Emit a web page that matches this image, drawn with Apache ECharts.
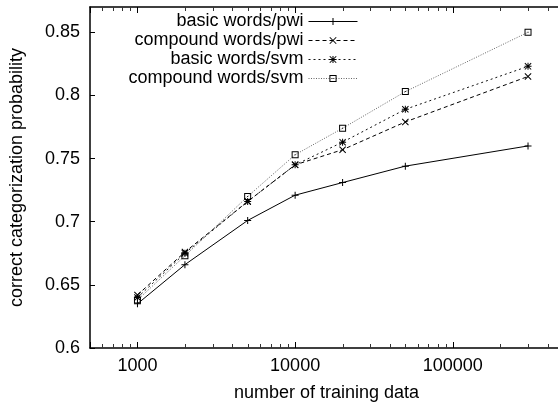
<!DOCTYPE html>
<html>
<head>
<meta charset="utf-8">
<script src="https://cdn.jsdelivr.net/npm/echarts@6/dist/echarts.min.js"></script>
<style>
  html, body { margin: 0; padding: 0; background: #fff; }
  #chart { width: 558px; height: 402px; }
</style>
</head>
<body>
<div id="chart"></div>
<script>
const trainingSizes = [1000, 2000, 5000, 10000, 20000, 50000, 300000]
const basicPwi = [0.635, 0.666, 0.701, 0.721, 0.731, 0.744, 0.760]
const compoundPwi = [0.642, 0.676, 0.716, 0.745, 0.757, 0.779, 0.815]
const basicSvm = [0.640, 0.675, 0.716, 0.745, 0.763, 0.789, 0.823]
const compoundSvm = [0.638, 0.673, 0.720, 0.753, 0.774, 0.803, 0.850]

const xMinorTicks = [600, 700, 800, 900, 2000, 3000, 4000, 5000, 6000, 7000, 8000, 9000,
  20000, 30000, 40000, 50000, 60000, 70000, 80000, 90000, 200000, 300000, 400000]
const yTicks = [0.6, 0.65, 0.7, 0.75, 0.8, 0.85]

const FONT = '"Liberation Sans", Arial, Helvetica, sans-serif'
const black = '#000'
const Y_MIN = 0.6
const Y_MAX = 0.87

// symbol shapes in the gnuplot style
const plusSym = 'path://M3,0H4V7H3Z M0,3H7V4H0Z'
const crossSym = 'path://M0,0.7L0.7,0L7,6.3L6.3,7Z M6.3,0L7,0.7L0.7,7L0,6.3Z'
const starSym = 'path://M3,0H4V7H3Z M0,3H7V4H0Z M0,0.7L0.7,0L7,6.3L6.3,7Z M6.3,0L7,0.7L0.7,7L0,6.3Z'
const boxSym = 'path://M0,0H7V7H0Z M1,1V6H6V1Z M3,3H4V4H3Z'

const pairs = ys => trainingSizes.map((x, i) => [x, ys[i]])

const mkSeries = (name, ys, symbol, lineType, color) => ({
  name,
  type: 'line',
  data: pairs(ys),
  symbol,
  symbolSize: 7,
  showSymbol: true,
  lineStyle: { color, width: 1, type: lineType },
  itemStyle: { color: black, borderWidth: 0 },
  emphasis: { disabled: true },
  animation: false,
})

// minor ticks on the log axis, drawn at bottom and top of the frame
const minorTickSeries = {
  type: 'custom',
  silent: true,
  clip: false,
  animation: false,
  data: xMinorTicks.map(v => [v, Y_MIN]),
  renderItem: (params, api) => {
    const b = api.coord([api.value(0), Y_MIN])
    const t = api.coord([api.value(0), Y_MAX])
    const x = Math.round(b[0]) + 0.5
    return {
      type: 'group',
      children: [
        { type: 'line', shape: { x1: x, y1: b[1], x2: x, y2: b[1] - 4 }, style: { stroke: '#333', lineWidth: 1 } },
        { type: 'line', shape: { x1: x, y1: t[1], x2: x, y2: t[1] + 4 }, style: { stroke: '#333', lineWidth: 1 } },
      ],
    }
  },
}

const isDecade = v => {
  const l = Math.log10(v)
  return Math.abs(l - Math.round(l)) < 1e-6
}

const chart = echarts.init(document.getElementById('chart'), null, { renderer: 'canvas' })

const xBase = {
  type: 'log',
  logBase: 10,
  min: 500,
  max: 500000,
  gridIndex: 0,
  splitLine: { show: false },
  minorTick: { show: false },
}

chart.setOption({
  backgroundColor: '#fff',
  animation: false,
  textStyle: { fontFamily: FONT },
  grid: { left: 90, top: 7, width: 473, height: 341, containLabel: false, outerBoundsMode: 'none' },
  legend: {
    orient: 'vertical',
    align: 'right',
    right: 200,
    top: 12,
    padding: 0,
    itemGap: 0,
    itemWidth: 49,
    itemHeight: 9,
    selectedMode: false,
    lineStyle: { width: 1 },
    textStyle: { fontFamily: FONT, fontSize: 18, color: black, lineHeight: 19 },
    data: ['basic words/pwi', 'compound words/pwi', 'basic words/svm', 'compound words/svm'],
  },
  xAxis: [
    {
      ...xBase,
      position: 'bottom',
      name: 'number of training data',
      nameLocation: 'middle',
      nameGap: 36,
      nameTextStyle: { fontFamily: FONT, fontSize: 18, color: black },
      axisLine: { show: true, lineStyle: { color: black, width: 1.5 } },
      axisTick: { show: true, inside: true, length: 6, lineStyle: { color: black } },
      axisLabel: { show: true, margin: 9, fontFamily: FONT, fontSize: 18, color: black,
        formatter: v => (isDecade(v) ? String(Math.round(v)) : '') },
    },
    {
      ...xBase,
      position: 'top',
      axisLine: { show: true, lineStyle: { color: black, width: 1.5 } },
      axisTick: { show: true, inside: true, length: 6, lineStyle: { color: black } },
      axisLabel: { show: false },
    },
  ],
  yAxis: [
    {
      type: 'value',
      min: Y_MIN,
      max: Y_MAX,
      position: 'left',
      name: 'correct categorization probability',
      nameLocation: 'middle',
      nameGap: 64,
      nameRotate: 90,
      nameTextStyle: { fontFamily: FONT, fontSize: 18, color: black },
      splitLine: { show: false },
      axisLine: { show: true, lineStyle: { color: black, width: 1.5 } },
      axisTick: { show: true, inside: true, length: 5, lineStyle: { color: black }, customValues: yTicks },
      axisLabel: { show: true, margin: 10, fontFamily: FONT, fontSize: 18, color: black, customValues: yTicks,
        formatter: v => String(+v.toFixed(2)) },
    },
    {
      type: 'value',
      min: Y_MIN,
      max: Y_MAX,
      position: 'right',
      splitLine: { show: false },
      axisLine: { show: true, lineStyle: { color: black, width: 1.5 } },
      axisTick: { show: true, inside: true, length: 5, lineStyle: { color: black }, customValues: yTicks },
      axisLabel: { show: false },
    },
  ],
  series: [
    mkSeries('basic words/pwi', basicPwi, plusSym, 'solid', '#000'),
    mkSeries('compound words/pwi', compoundPwi, crossSym, [4, 3], '#000'),
    mkSeries('basic words/svm', basicSvm, starSym, [2, 3], '#111'),
    mkSeries('compound words/svm', compoundSvm, boxSym, [1, 1.5], '#666'),
    minorTickSeries,
  ],
})
</script>
</body>
</html>
